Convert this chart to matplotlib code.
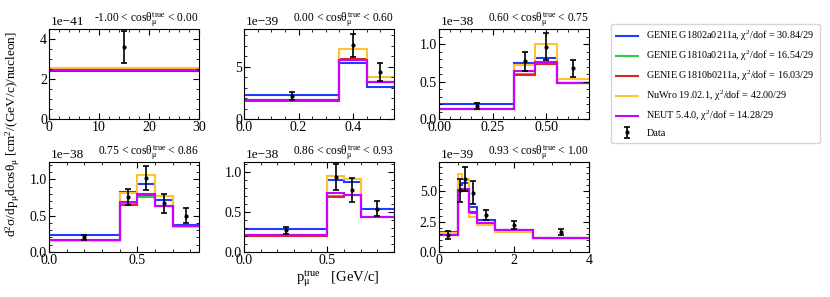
import numpy as np
import matplotlib
matplotlib.use("Agg")
import matplotlib.pyplot as plt
from matplotlib.ticker import AutoMinorLocator

plt.rcParams['font.family'] = 'serif'
plt.rcParams['font.serif'] = ['Liberation Serif', 'DejaVu Serif']
plt.rcParams['mathtext.fontset'] = 'custom'
plt.rcParams['mathtext.rm'] = 'Liberation Serif'
plt.rcParams['mathtext.it'] = 'Liberation Serif'
plt.rcParams['mathtext.bf'] = 'Liberation Serif:bold'

# angular slices
cos_labels = ["-1.00 < cos$\\theta_{\\mu}^{\\rm true}$ < 0.00",
              "0.00 < cos$\\theta_{\\mu}^{\\rm true}$ < 0.60",
              "0.60 < cos$\\theta_{\\mu}^{\\rm true}$ < 0.75",
              "0.75 < cos$\\theta_{\\mu}^{\\rm true}$ < 0.86",
              "0.86 < cos$\\theta_{\\mu}^{\\rm true}$ < 0.93",
              "0.93 < cos$\\theta_{\\mu}^{\\rm true}$ < 1.00"]
scales = [1e-41, 1e-39, 1e-38, 1e-38, 1e-38, 1e-39]
ylims = [4.5, 8.6, 1.2, 1.24, 1.12, 7.4]
edges = [[0, 30],
         [0, 0.35, 0.45, 0.55],
         [0, 0.35, 0.45, 0.55, 0.7],
         [0, 0.4, 0.5, 0.6, 0.7, 0.85],
         [0, 0.5, 0.6, 0.7, 0.9],
         [0, 0.5, 0.6, 0.8, 1.0, 1.5, 2.5, 4.0]]
xticks = [[0, 10, 20, 30], [0.0, 0.2, 0.4], [0.0, 0.25, 0.5],
          [0.0, 0.5], [0.0, 0.5], [0, 2, 4]]
xticklabels = [["0", "10", "20", "30"], ["0.0", "0.2", "0.4"], ["0.00", "0.25", "0.50"],
               ["0.0", "0.5"], ["0.0", "0.5"], ["0", "2", "4"]]
yticks = [[0, 2, 4], [0, 5], [0.0, 0.5, 1.0], [0.0, 0.5, 1.0], [0.0, 0.5, 1.0], [0.0, 2.5, 5.0]]
yticklabels = [["0", "2", "4"], ["0", "5"], ["0.0", "0.5", "1.0"], ["0.0", "0.5", "1.0"],
               ["0.0", "0.5", "1.0"], ["0.0", "2.5", "5.0"]]

# model predictions (in units of the panel scale)
genie_02a = [[2.40], [2.29, 5.38, 3.09], [0.20, 0.75, 0.82, 0.475],
             [0.236, 0.83, 0.94, 0.72, 0.37], [0.29, 0.89, 0.87, 0.53],
             [1.68, 5.55, 5.70, 3.72, 2.63, 1.80, 1.16]]
genie_10a = [[2.46], [1.80, 5.60, 3.50], [0.14, 0.60, 0.75, 0.475],
             [0.15, 0.66, 0.76, 0.64, 0.36], [0.21, 0.70, 0.71, 0.44],
             [1.42, 5.00, 5.10, 3.20, 2.36, 1.80, 1.14]]
genie_10b = [[2.48], [1.75, 5.70, 3.50], [0.13, 0.59, 0.73, 0.475],
             [0.16, 0.645, 0.79, 0.64, 0.36], [0.205, 0.69, 0.71, 0.44],
             [1.42, 5.08, 5.05, 3.20, 2.36, 1.80, 1.14]]
nuwro = [[2.56], [1.80, 6.66, 4.04], [0.13, 0.72, 1.00, 0.54],
         [0.145, 0.81, 1.055, 0.77, 0.34], [0.21, 0.95, 0.91, 0.44],
         [1.55, 6.44, 6.00, 2.90, 2.23, 1.68, 1.14]]
neut = [[2.45], [1.82, 5.64, 3.57], [0.13, 0.645, 0.765, 0.475],
        [0.17, 0.69, 0.80, 0.63, 0.36], [0.21, 0.74, 0.71, 0.44],
        [1.41, 5.10, 5.15, 3.30, 2.36, 1.82, 1.14]]

# data points
data_x = [[15], [0.175, 0.4, 0.5], [0.175, 0.4, 0.5, 0.625],
          [0.2, 0.45, 0.55, 0.65, 0.775], [0.25, 0.55, 0.65, 0.8],
          [0.25, 0.55, 0.7, 0.9, 1.25, 2.0, 3.25]]
data_y = [[3.6], [2.2, 7.07, 4.46], [0.18, 0.77, 0.965, 0.675],
          [0.2, 0.76, 1.02, 0.67, 0.5], [0.27, 0.93, 0.77, 0.54],
          [1.41, 5.08, 6.03, 4.86, 3.04, 2.23, 1.68]]
data_err = [[0.8], [0.4, 1.1, 0.85], [0.04, 0.13, 0.18, 0.11],
            [0.04, 0.11, 0.16, 0.13, 0.1], [0.04, 0.16, 0.15, 0.09],
            [0.3, 0.95, 1.0, 0.95, 0.4, 0.35, 0.25]]

models = [("GENIE G1802a0211a, $\\chi^{2}$/dof = 30.84/29", genie_02a, "#1f3bff"),
          ("GENIE G1810a0211a, $\\chi^{2}$/dof = 16.54/29", genie_10a, "#2ecc40"),
          ("GENIE G1810b0211a, $\\chi^{2}$/dof = 16.03/29", genie_10b, "#d62728"),
          ("NuWro 19.02.1, $\\chi^{2}$/dof = 42.00/29", nuwro, "#ffc233"),
          ("NEUT 5.4.0, $\\chi^{2}$/dof = 14.28/29", neut, "#cc00ff")]

fig = plt.figure(figsize=(8.3, 2.97), dpi=100)
W, H = 830.0, 297.0
col_left = [49, 244, 439]
row_top = [29, 162]
aw, ah = 150, 90

handles = []
for i in range(6):
    r, c = divmod(i, 3)
    ax = fig.add_axes([col_left[c] / W, 1 - (row_top[r] + ah) / H, aw / W, ah / H])
    s = scales[i]
    e = np.array(edges[i])
    for name, vals, color in models:
        h = ax.stairs(np.array(vals[i]) * s, e, color=color, lw=1.5, baseline=None, label=name)
        if i == 0:
            handles.append(h)
    d = ax.errorbar(np.array(data_x[i]), np.array(data_y[i]) * s, yerr=np.array(data_err[i]) * s,
                    fmt='o', color='black', ms=2, capsize=2, elinewidth=1.2, capthick=1.2,
                    label='Data', zorder=5)
    if i == 0:
        handles.append(d)
    ax.set_xlim(e[0], e[-1])
    ax.set_ylim(0, ylims[i] * s)
    ax.set_xticks(xticks[i])
    ax.set_xticklabels(xticklabels[i])
    ax.set_yticks(np.array(yticks[i]) * s)
    ax.set_yticklabels(yticklabels[i])
    ax.xaxis.set_minor_locator(AutoMinorLocator())
    ax.yaxis.set_minor_locator(AutoMinorLocator())
    ax.tick_params(which='both', direction='in', top=True, right=True, labelsize=10, pad=1.5)
    ax.tick_params(which='major', length=4)
    ax.tick_params(which='minor', length=2)
    exp = int(round(np.log10(s)))
    ax.text(0.01, 1.01, "1e\u2212%d" % (-exp), transform=ax.transAxes, fontsize=9.5,
            ha='left', va='bottom')
    ax.set_title(cos_labels[i], loc='right', fontsize=8.3, pad=3)

fig.legend(handles=handles, loc='upper left', bbox_to_anchor=(611 / W, 1 - 24 / H),
           fontsize=7.3, frameon=True, handlelength=2.2, borderpad=0.5, labelspacing=0.55,
           edgecolor='#cccccc', fancybox=True, handletextpad=0.8, borderaxespad=0.0)

fig.text(13 / W, 1 - 134 / H,
         "d$^{2}\\sigma$/dp$_{\\mu}$dcos$\\theta_{\\mu}$ [cm$^{2}$/(GeV/c)/nucleon]",
         rotation=90, ha='center', va='center', fontsize=9.6)
fig.text(338 / W, 1 - 279 / H, "p$_{\\mu}^{\\rm true}$   [GeV/c]", ha='center', va='center',
         fontsize=10.5)

fig.savefig("out.png", dpi=100)
